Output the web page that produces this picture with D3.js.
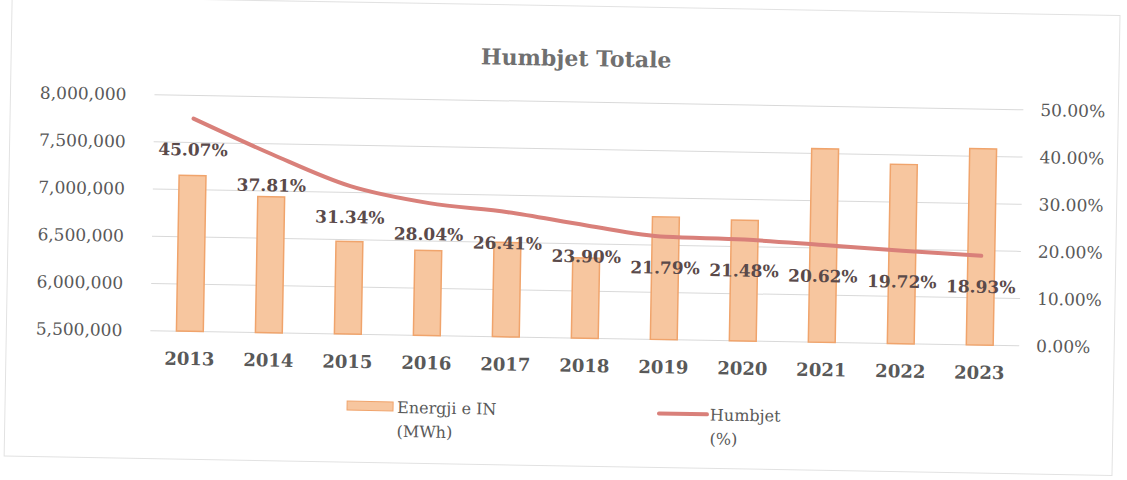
<!DOCTYPE html>
<html>
<head>
<meta charset="utf-8">
<script src="https://cdn.jsdelivr.net/npm/d3@7"></script>
<style>
  body { margin: 0; background: #fff; }
  svg { display: block; }
  text { font-family: "DejaVu Serif", "Liberation Serif", serif; }
</style>
</head>
<body>
<div id="chart"></div>
<script>
const years = ["2013","2014","2015","2016","2017","2018","2019","2020","2021","2022","2023"]
const energy = [7150000, 6940000, 6480000, 6400000, 6500000, 6350000, 6800000, 6780000, 7550000, 7400000, 7580000]
const losses = [45.07, 37.81, 31.34, 28.04, 26.41, 23.90, 21.79, 21.48, 20.62, 19.72, 18.93]
const leftTicks = [5500000, 6000000, 6500000, 7000000, 7500000, 8000000]
const rightTicks = [0, 10, 20, 30, 40, 50]

const width = 1127
const height = 480
const margin = {top: 102, right: 106, bottom: 142, left: 152}
const serif = "'DejaVu Serif', 'Liberation Serif', serif"

const svg = d3.select('#chart')
  .append("svg")
  .attr("width", width)
  .attr("height", height)

// scanned page is slightly tilted
const g = svg.append("g")
  .attr("transform", "rotate(1, 573, 240)")
  .style("font-family", serif)

g.append("rect")
  .attr("x", 8).attr("y", 6)
  .attr("width", 1108).attr("height", 460)
  .attr("fill", "none")
  .attr("stroke", "#e2e2e2")

g.append("text")
  .attr("x", 573).attr("y", 66)
  .attr("text-anchor", "middle")
  .attr("font-size", 22)
  .attr("font-weight", "bold")
  .attr("fill", "#707070")
  .text("Humbjet Totale")

const x = d3.scaleBand()
  .domain(years)
  .range([margin.left, width - margin.right])
  .paddingInner(0.66)
  .paddingOuter(0.33)

const yL = d3.scaleLinear()
  .domain([5500000, 8000000])
  .range([height - margin.bottom, margin.top])

const yR = d3.scaleLinear()
  .domain([0, 50])
  .range([height - margin.bottom, margin.top])

// gridlines
g.append("g")
  .selectAll("line")
  .data(leftTicks)
  .enter()
  .append("line")
    .attr("x1", margin.left)
    .attr("x2", width - margin.right)
    .attr("y1", d => yL(d))
    .attr("y2", d => yL(d))
    .attr("stroke", "#d9d9d9")
    .attr("stroke-width", 1)

const axL = g.append("g")
  .attr("transform", "translate(" + (margin.left - 25) + ",0)")
  .call(d3.axisLeft(yL).tickValues(leftTicks).tickFormat(d3.format(",")).tickSize(0))
axL.attr("font-family", null)
axL.select(".domain").remove()
axL.selectAll("text")
  .style("font-family", serif)
  .attr("font-size", 17)
  .attr("fill", "#595959")

const axR = g.append("g")
  .attr("transform", "translate(" + (width - margin.right + 14) + ",0)")
  .call(d3.axisRight(yR).tickValues(rightTicks).tickFormat(d => d.toFixed(2) + "%").tickSize(0))
axR.attr("font-family", null)
axR.select(".domain").remove()
axR.selectAll("text")
  .style("font-family", serif)
  .attr("font-size", 17)
  .attr("fill", "#595959")

const axB = g.append("g")
  .attr("transform", "translate(0," + (height - margin.bottom) + ")")
  .call(d3.axisBottom(x).tickSize(0).tickPadding(21))
axB.attr("font-family", null)
axB.select(".domain").remove()
axB.selectAll("text")
  .style("font-family", serif)
  .attr("font-size", 18)
  .attr("font-weight", "bold")
  .attr("fill", "#595959")

// bars
g.append("g")
  .selectAll("rect")
  .data(d3.zip(years, energy))
  .enter()
  .append("rect")
    .attr("x", d => x(d[0]))
    .attr("y", d => yL(d[1]))
    .attr("width", x.bandwidth())
    .attr("height", d => yL(5500000) - yL(d[1]))
    .attr("fill", "#f7c69f")
    .attr("stroke", "#f0a46c")
    .attr("stroke-width", 1.5)

// line
g.append("path")
  .datum(d3.zip(years, losses))
  .attr("fill", "none")
  .attr("stroke", "#d9807a")
  .attr("stroke-width", 4)
  .attr("stroke-linecap", "round")
  .attr("d", d3.line()
    .curve(d3.curveMonotoneX)
    .x(d => x(d[0]) + x.bandwidth() / 2)
    .y(d => yR(d[1]))
  )

// data labels
g.append("g")
  .selectAll("text")
  .data(d3.zip(years, losses))
  .enter()
  .append("text")
    .attr("x", d => x(d[0]) + x.bandwidth() / 2)
    .attr("y", d => yR(d[1]) + 37)
    .attr("text-anchor", "middle")
    .attr("font-size", 17)
    .attr("font-weight", "bold")
    .attr("fill", "#5a4a4a")
    .text(d => d[1].toFixed(2) + "%")

// legend
const leg = g.append("g")
leg.append("rect")
  .attr("x", 350).attr("y", 405)
  .attr("width", 46).attr("height", 9)
  .attr("fill", "#f7c69f")
  .attr("stroke", "#f0a46c")
leg.append("text")
  .attr("x", 400).attr("y", 416)
  .attr("font-size", 16)
  .attr("fill", "#595959")
  .text("Energji e IN")
leg.append("text")
  .attr("x", 400).attr("y", 440)
  .attr("font-size", 16)
  .attr("fill", "#595959")
  .text("(MWh)")

leg.append("line")
  .attr("x1", 662).attr("x2", 710)
  .attr("y1", 412).attr("y2", 412)
  .attr("stroke", "#d9807a")
  .attr("stroke-width", 4)
  .attr("stroke-linecap", "round")
leg.append("text")
  .attr("x", 713).attr("y", 418)
  .attr("font-size", 16)
  .attr("fill", "#595959")
  .text("Humbjet")
leg.append("text")
  .attr("x", 713).attr("y", 442)
  .attr("font-size", 16)
  .attr("fill", "#595959")
  .text("(%)")
</script>
</body>
</html>
